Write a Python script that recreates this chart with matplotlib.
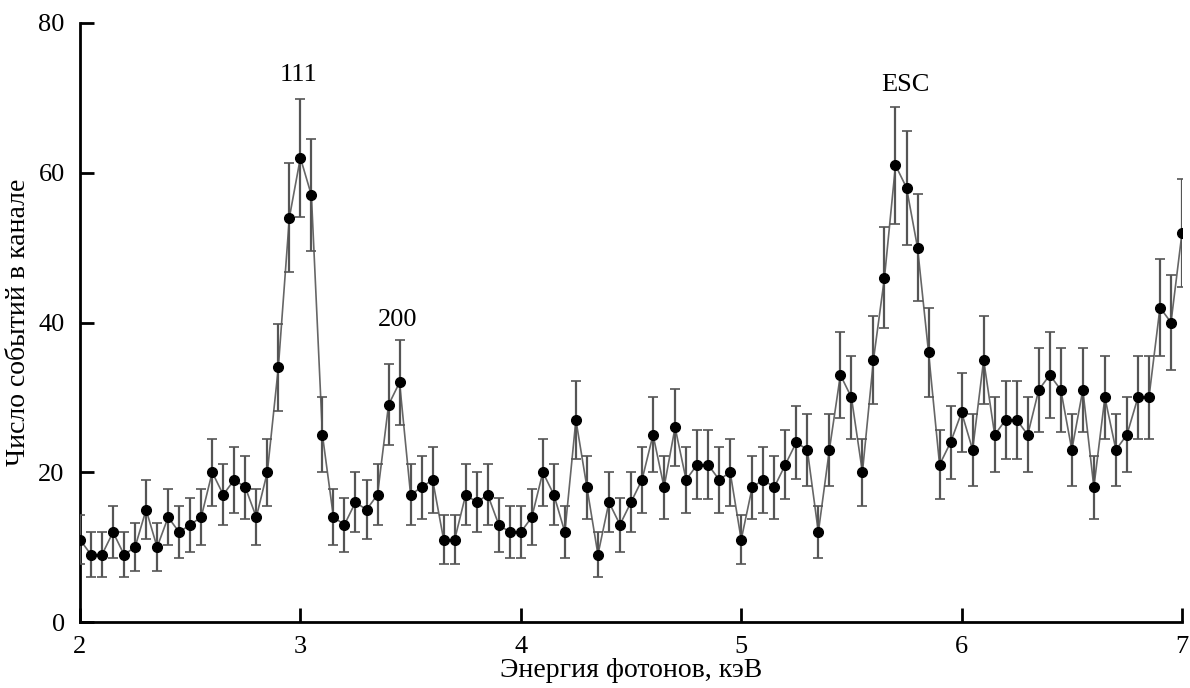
import matplotlib
matplotlib.use("Agg")
import matplotlib.pyplot as plt
import numpy as np

# Photon energy channels, keV
energy = np.round(np.arange(2.0, 7.0001, 0.05), 2)

# Counts per channel
counts = [11, 9, 9, 12, 9, 10, 15, 10, 14, 12,
          13, 14, 20, 17, 19, 18, 14, 20, 34, 54,
          62, 57, 25, 14, 13, 16, 15, 17, 29, 32,
          17, 18, 19, 11, 11, 17, 16, 17, 13, 12,
          12, 14, 20, 17, 12, 27, 18, 9, 16, 13,
          16, 19, 25, 18, 26, 19, 21, 21, 19, 20,
          11, 18, 19, 18, 21, 24, 23, 12, 23, 33,
          30, 20, 35, 46, 61, 58, 50, 36, 21, 24,
          28, 23, 35, 25, 27, 27, 25, 31, 33, 31,
          23, 31, 18, 30, 23, 25, 30, 30, 42, 40,
          52]

# Error bar half-lengths
errors = [3.3, 3.0, 3.0, 3.5, 3.0, 3.2, 3.9, 3.2, 3.7, 3.5,
          3.6, 3.7, 4.5, 4.1, 4.4, 4.2, 3.7, 4.5, 5.8, 7.3,
          7.9, 7.5, 5.0, 3.7, 3.6, 4.0, 3.9, 4.1, 5.4, 5.7,
          4.1, 4.2, 4.4, 3.3, 3.3, 4.1, 4.0, 4.1, 3.6, 3.5,
          3.5, 3.7, 4.5, 4.1, 3.5, 5.2, 4.2, 3.0, 4.0, 3.6,
          4.0, 4.4, 5.0, 4.2, 5.1, 4.4, 4.6, 4.6, 4.4, 4.5,
          3.3, 4.2, 4.4, 4.2, 4.6, 4.9, 4.8, 3.5, 4.8, 5.7,
          5.5, 4.5, 5.9, 6.8, 7.8, 7.6, 7.1, 6.0, 4.6, 4.9,
          5.3, 4.8, 5.9, 5.0, 5.2, 5.2, 5.0, 5.6, 5.7, 5.6,
          4.8, 5.6, 4.2, 5.5, 4.8, 5.0, 5.5, 5.5, 6.5, 6.3,
          7.2]

peak_labels = ["111", "200", "ESC"]
peak_x = [2.99, 3.44, 5.745]
peak_y = [73, 40.3, 71.7]

plt.rcParams['font.family'] = ['Liberation Serif', 'DejaVu Serif']

fig = plt.figure(figsize=(11.9, 6.88), dpi=100)
ax = fig.add_axes([0.0672, 0.0959, 0.9261, 0.8707])

ax.plot(energy, counts, color='#666666', lw=1.2, zorder=2)
ax.errorbar(energy, counts, yerr=errors, fmt='none', ecolor='#555555',
            elinewidth=1.6, capsize=3.5, capthick=1.2, zorder=3)
ax.plot(energy, counts, 'o', color='black', ms=7, zorder=4)

for lab, px, py in zip(peak_labels, peak_x, peak_y):
    ax.text(px, py, lab, ha='center', va='center', fontsize=19)

ax.set_xlim(2, 7)
ax.set_ylim(0, 80)
ax.set_xticks([2, 3, 4, 5, 6, 7])
ax.set_yticks([0, 20, 40, 60, 80])

for side in ['top', 'right']:
    ax.spines[side].set_visible(False)
for side in ['left', 'bottom']:
    ax.spines[side].set_linewidth(2)

ax.tick_params(direction='in', length=10, width=2, labelsize=19)
ax.tick_params(axis='x', pad=10)
ax.tick_params(axis='y', pad=11)
ax.set_xlabel('Энергия фотонов, кэВ', fontsize=20, labelpad=0)
ax.set_ylabel('Число событий в канале', fontsize=20, labelpad=5)

fig.savefig('out.png', dpi=100)
